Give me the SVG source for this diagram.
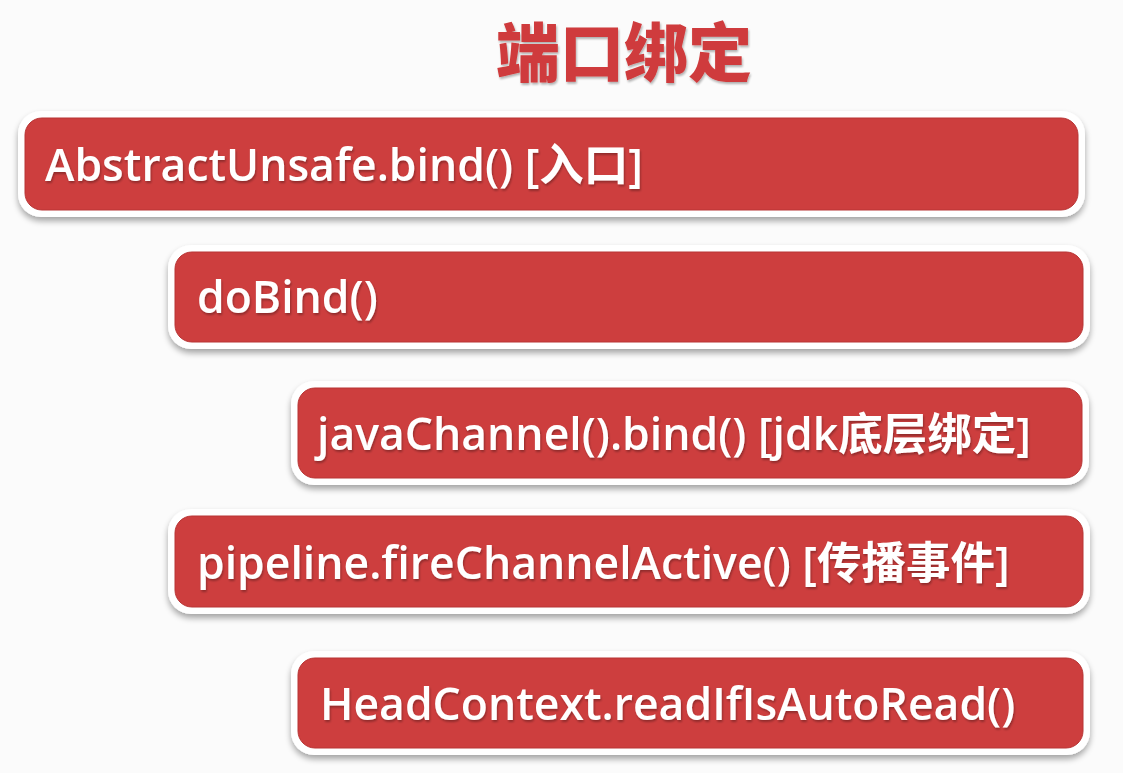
<svg xmlns="http://www.w3.org/2000/svg" width="1123" height="773" viewBox="0 0 1123 773">
  <defs>
    <filter id="shadow" x="-5%" y="-20%" width="110%" height="150%">
      <feGaussianBlur in="SourceAlpha" stdDeviation="3"/>
      <feOffset dx="0" dy="4" result="b"/>
      <feComponentTransfer><feFuncA type="linear" slope="0.35"/></feComponentTransfer>
      <feMerge><feMergeNode/><feMergeNode in="SourceGraphic"/></feMerge>
    </filter>
    <filter id="tshadow" x="-5%" y="-5%" width="110%" height="120%">
      <feGaussianBlur in="SourceAlpha" stdDeviation="1"/>
      <feOffset dx="1" dy="2"/>
      <feComponentTransfer><feFuncA type="linear" slope="0.3"/></feComponentTransfer>
      <feMerge><feMergeNode/><feMergeNode in="SourceGraphic"/></feMerge>
    </filter>
  </defs>
  <style>
    .outer { fill: #ffffff; filter: url(#shadow); }
    .box { fill: #cd3e3e; stroke: #b83434; stroke-width: 1; }
    .label { fill: #ffffff; font-family: "Open Sans", "Noto Sans CJK SC", sans-serif; font-weight: 600; font-size: 44.5px; filter: url(#tshadow); }
    .title { fill: #cf3b3c; font-family: "Noto Sans CJK SC", sans-serif; font-weight: 900; font-size: 64px; filter: url(#tshadow); }
  </style>
  <rect width="1123" height="773" fill="#fbfbfb"/>
  <text class="title" x="624" y="76" text-anchor="middle">端口绑定</text>
  <g id="node1">
    <rect class="outer" x="18" y="111" width="1067" height="106" rx="23"/>
    <rect class="box" x="25" y="118" width="1053" height="92" rx="17"/>
    <text class="label" x="45" y="181">AbstractUnsafe.bind() [入口]</text>
  </g>
  <g id="node2">
    <rect class="outer" x="168" y="245" width="922" height="104" rx="23"/>
    <rect class="box" x="175" y="252" width="908" height="90" rx="17"/>
    <text class="label" x="197" y="313">doBind()</text>
  </g>
  <g id="node3">
    <rect class="outer" x="291" y="381" width="798" height="104" rx="23"/>
    <rect class="box" x="298" y="388" width="784" height="90" rx="17"/>
    <text class="label" x="317" y="450">javaChannel().bind() [jdk底层绑定]</text>
  </g>
  <g id="node4">
    <rect class="outer" x="168" y="509" width="922" height="105" rx="23"/>
    <rect class="box" x="175" y="516" width="908" height="91" rx="17"/>
    <text class="label" x="197" y="579">pipeline.fireChannelActive() [传播事件]</text>
  </g>
  <g id="node5">
    <rect class="outer" x="291" y="651" width="799" height="104" rx="23"/>
    <rect class="box" x="298" y="658" width="785" height="90" rx="17"/>
    <text class="label" x="320" y="720">HeadContext.readIfIsAutoRead()</text>
  </g>
  <g id="connectors"></g>
</svg>
